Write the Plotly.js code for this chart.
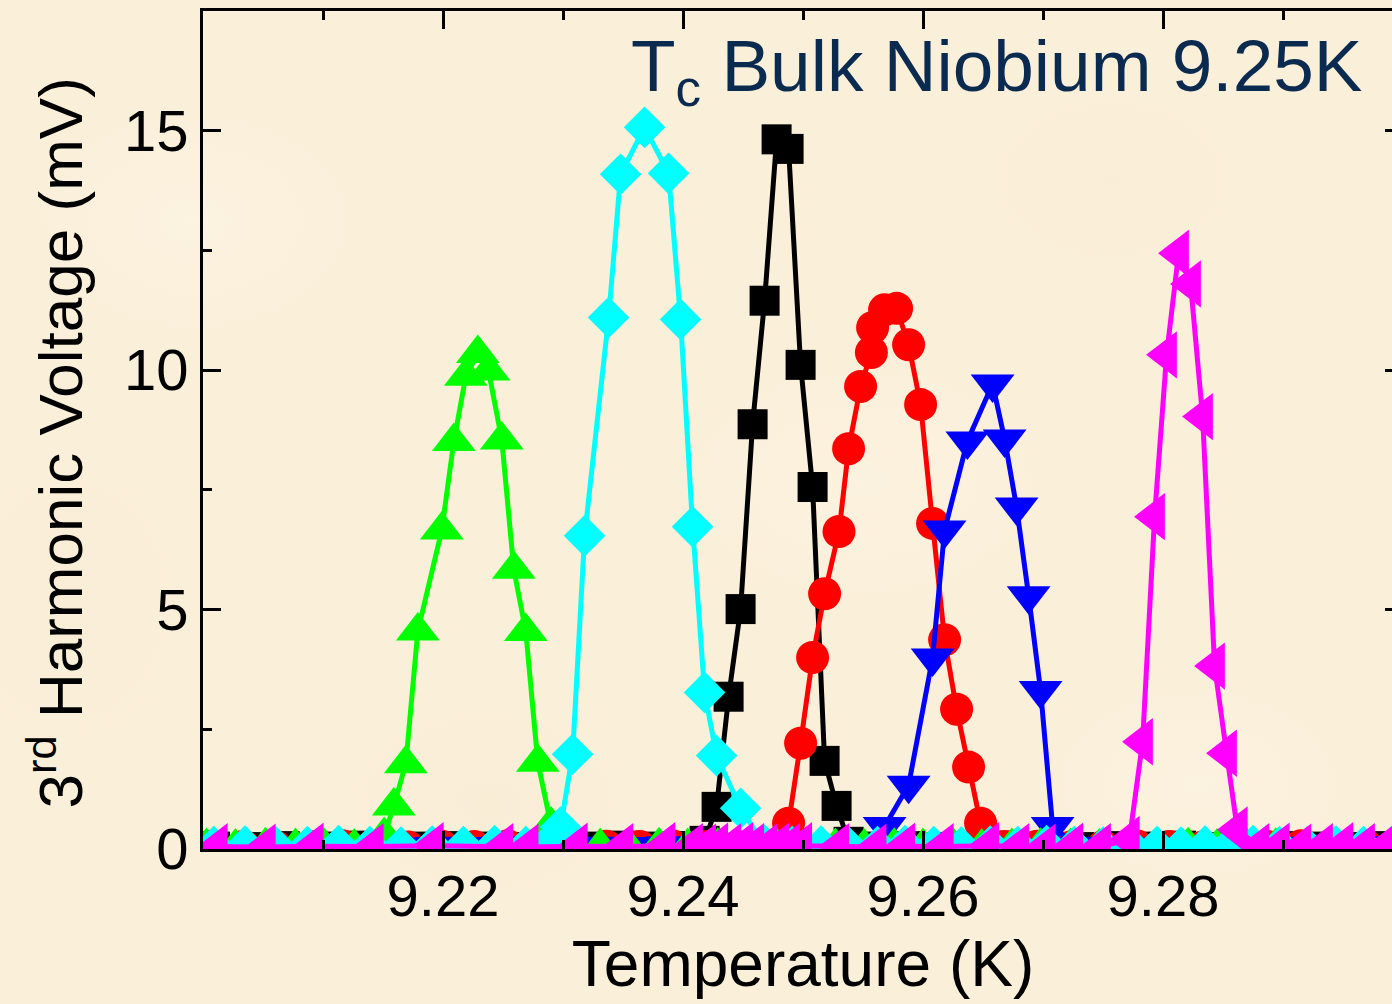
<!DOCTYPE html>
<html>
<head>
<meta charset="utf-8">
<script src="https://cdn.plot.ly/plotly-3.0.1.min.js"></script>
<style>
  html, body { margin: 0; padding: 0; width: 1392px; height: 1004px; overflow: hidden; }
  body {
    background-color: #FAEFD9;
    background-image:
      radial-gradient(ellipse 260px 180px at 14% 22%, rgba(253,246,231,0.5), rgba(253,246,231,0) 70%),
      radial-gradient(ellipse 300px 200px at 62% 48%, rgba(253,246,230,0.45), rgba(253,246,230,0) 70%),
      radial-gradient(ellipse 240px 160px at 86% 78%, rgba(253,246,231,0.45), rgba(253,246,231,0) 70%),
      radial-gradient(ellipse 220px 150px at 35% 80%, rgba(246,233,207,0.35), rgba(246,233,207,0) 70%),
      radial-gradient(ellipse 200px 140px at 80% 18%, rgba(246,233,207,0.3), rgba(246,233,207,0) 70%),
      radial-gradient(ellipse 180px 220px at 5% 60%, rgba(246,233,207,0.3), rgba(246,233,207,0) 70%);
  }
  #chart { width: 1420px; height: 1004px; }
</style>
</head>
<body>
<div id="chart"></div>
<script>
// Third-harmonic voltage vs temperature, six sweeps through the Nb transition
const tempBlack = [9.2010, 9.2040, 9.2068, 9.2096, 9.2125, 9.2153, 9.2181, 9.2210, 9.2238, 9.2266, 9.2295, 9.2323, 9.2351, 9.2380, 9.2405,
  9.2418, 9.2428, 9.2438, 9.2448, 9.2458, 9.2468, 9.2478, 9.2488, 9.2498, 9.2508, 9.2518, 9.2528, 9.2538,
  9.2560, 9.2588, 9.2616, 9.2645, 9.2673, 9.2701, 9.2730, 9.2758, 9.2786, 9.2815, 9.2843, 9.2871, 9.2900, 9.2928, 9.2956, 9.2985];
const voltBlack = [0.05, 0.04, 0.06, 0.05, 0.07, 0.04, 0.05, 0.06, 0.05, 0.04, 0.06, 0.05, 0.07, 0.05, 0.06,
  0.17, 0.88, 3.18, 5.01, 8.87, 11.45, 14.82, 14.62, 10.11, 7.56, 1.84, 0.90, 0.15,
  0.05, 0.06, 0.04, 0.05, 0.07, 0.05, 0.04, 0.06, 0.05, 0.07, 0.04, 0.05, 0.06, 0.05, 0.04, 0.06];

const tempRed = [9.2006, 9.2034, 9.2061, 9.2089, 9.2116, 9.2144, 9.2171, 9.2199, 9.2226, 9.2254, 9.2281, 9.2309, 9.2336, 9.2364, 9.2391, 9.2419, 9.2446, 9.2470,
  9.2488, 9.2498, 9.2508, 9.2518, 9.2530, 9.2538, 9.2548, 9.2557, 9.2558, 9.2568, 9.2578, 9.2588, 9.2598, 9.2608, 9.2618, 9.2628, 9.2638, 9.2648,
  9.2668, 9.2695, 9.2723, 9.2750, 9.2778, 9.2805, 9.2833, 9.2860, 9.2888, 9.2915, 9.2943, 9.2970, 9.2998];
const voltRed = [0.05, 0.06, 0.04, 0.05, 0.07, 0.05, 0.04, 0.06, 0.05, 0.07, 0.05, 0.04, 0.06, 0.05, 0.07, 0.05, 0.04, 0.06,
  0.54, 2.21, 4.00, 5.33, 6.63, 8.36, 9.66, 10.37, 10.89, 11.26, 11.29, 10.53, 9.28, 6.80, 4.37, 2.92, 1.71, 0.54,
  0.05, 0.06, 0.04, 0.05, 0.07, 0.05, 0.04, 0.06, 0.05, 0.07, 0.04, 0.05, 0.06];

const tempBlue = [9.2004, 9.2031, 9.2059, 9.2086, 9.2113, 9.2141, 9.2168, 9.2195, 9.2223, 9.2250, 9.2277, 9.2305, 9.2332, 9.2359, 9.2387, 9.2414, 9.2441, 9.2469, 9.2496, 9.2523, 9.2550,
  9.2568, 9.2588, 9.2608, 9.2618, 9.2637, 9.2658, 9.2668, 9.2678, 9.2688, 9.2698, 9.2708,
  9.2728, 9.2755, 9.2783, 9.2810, 9.2838, 9.2865, 9.2893, 9.2920, 9.2948, 9.2975, 9.3002];
const voltBlue = [0.05, 0.04, 0.06, 0.05, 0.07, 0.05, 0.04, 0.06, 0.05, 0.07, 0.05, 0.04, 0.06, 0.05, 0.07, 0.05, 0.04, 0.06, 0.05, 0.07, 0.05,
  0.47, 1.33, 3.99, 6.66, 8.52, 9.71, 8.56, 7.14, 5.29, 3.31, 0.47,
  0.05, 0.06, 0.04, 0.05, 0.07, 0.05, 0.04, 0.06, 0.05, 0.07, 0.05];

const tempGreen = [9.2003, 9.2027, 9.2052, 9.2077, 9.2101, 9.2126,
  9.2151, 9.2159, 9.2169, 9.2179, 9.2199, 9.2209, 9.2219, 9.2229, 9.2238, 9.2249, 9.2259, 9.2269, 9.2279, 9.2290,
  9.2306, 9.2331, 9.2355, 9.2380, 9.2404, 9.2429, 9.2453, 9.2478, 9.2502, 9.2527, 9.2551, 9.2576, 9.2600, 9.2625, 9.2649,
  9.2674, 9.2698, 9.2723, 9.2747, 9.2772, 9.2796, 9.2821, 9.2845, 9.2870, 9.2894, 9.2919, 9.2943, 9.2968, 9.2992];
const voltGreen = [0.05, 0.04, 0.07, 0.05, 0.06, 0.04,
  0.28, 0.90, 1.78, 4.55, 6.66, 8.51, 9.87, 10.35, 9.98, 8.54, 5.84, 4.54, 1.81, 0.50,
  0.06, 0.05, 0.04, 0.07, 0.05, 0.06, 0.04, 0.05, 0.07, 0.05, 0.04, 0.06, 0.05, 0.07, 0.04,
  0.05, 0.06, 0.05, 0.04, 0.06, 0.05, 0.07, 0.04, 0.05, 0.06, 0.05, 0.04, 0.06, 0.05];

const tempCyan = [9.2009, 9.2035, 9.2061, 9.2087, 9.2113, 9.2139, 9.2165, 9.2191, 9.2217, 9.2243, 9.2269, 9.2288,
  9.2298, 9.2308, 9.2318, 9.2338, 9.2348, 9.2368, 9.2388, 9.2398, 9.2408, 9.2418, 9.2428, 9.2448,
  9.2468, 9.2491, 9.2515, 9.2538, 9.2562, 9.2585, 9.2609, 9.2632, 9.2656, 9.2679, 9.2703, 9.2726,
  9.2750, 9.2773, 9.2795, 9.2815, 9.2835, 9.2855, 9.2875, 9.2897, 9.2920, 9.2944, 9.2967, 9.2990];
const voltCyan = [0.05, 0.06, 0.04, 0.05, 0.07, 0.05, 0.04, 0.06, 0.05, 0.07, 0.05, 0.12,
  0.46, 1.98, 6.54, 11.10, 14.09, 15.07, 14.11, 11.06, 6.73, 3.27, 1.95, 0.85,
  0.08, 0.05, 0.06, 0.04, 0.05, 0.07, 0.05, 0.04, 0.06, 0.05, 0.07, 0.05,
  0.04, 0.06, 0.05, 0.04, 0.06, 0.05, 0.07, 0.05, 0.04, 0.06, 0.05, 0.04];

const tempMagenta = [9.2012, 9.2052, 9.2092, 9.2142, 9.2192, 9.2250, 9.2271, 9.2312, 9.2350, 9.2385, 9.2408, 9.2419, 9.2429, 9.2440, 9.2450,
  9.2459, 9.2470, 9.2480, 9.2489, 9.2499, 9.2530, 9.2561, 9.2585, 9.2617, 9.2655, 9.2680, 9.2702, 9.2725, 9.2748,
  9.2772, 9.2783, 9.2793, 9.2803, 9.2813, 9.2823, 9.2833, 9.2843, 9.2853, 9.2862,
  9.2880, 9.2897, 9.2915, 9.2933, 9.2950, 9.2968, 9.2985, 9.3003];
const voltMagenta = [0.05, 0.04, 0.06, 0.05, 0.07, 0.05, 0.04, 0.06, 0.05, 0.07, 0.05, 0.04, 0.06, 0.05, 0.07,
  0.05, 0.04, 0.06, 0.05, 0.07, 0.05, 0.04, 0.06, 0.05, 0.07, 0.05, 0.04, 0.06, 0.05,
  0.20, 2.24, 6.94, 10.32, 12.44, 11.80, 9.03, 3.82, 2.00, 0.40,
  0.05, 0.06, 0.04, 0.05, 0.07, 0.05, 0.04, 0.06];

const xTickVals = [9.22, 9.24, 9.26, 9.28];
const xTickText = ['9.22', '9.24', '9.26', '9.28'];
const xMinorVals = [9.21, 9.23, 9.25, 9.27, 9.29];
const yTickVals = [0, 5, 10, 15];
const yTickText = ['0', '5', '10', '15'];
const yMinorVals = [2.5, 7.5, 12.5];

const plotTitle = 'T<sub>c</sub> Bulk Niobium 9.25K';
const xTitle = 'Temperature (K)';
const yTitle = '3<sup>rd</sup> Harmonic Voltage (mV)';

function sweep(x, y, color, symbol, size) {
  return {
    type: 'scatter', mode: 'lines+markers', x: x, y: y,
    line: { color: color, width: 5 },
    marker: { color: color, symbol: symbol, size: size, line: { width: 0 } },
    cliponaxis: true, hoverinfo: 'skip'
  };
}

const traces = [
  sweep(tempBlack, voltBlack, '#000000', 'square', 30),
  sweep(tempRed, voltRed, '#FF0000', 'circle', 33),
  sweep(tempBlue, voltBlue, '#0000FF', 'triangle-down', 38),
  sweep(tempGreen, voltGreen, '#00FF00', 'triangle-up', 38),
  sweep(tempCyan, voltCyan, '#00FFFF', 'diamond', 32),
  sweep(tempMagenta, voltMagenta, '#FF00FF', 'triangle-left', 41)
];

const axisCommon = {
  ticks: 'inside', ticklen: 18, tickwidth: 3, tickcolor: '#000',
  showline: true, linewidth: 3, linecolor: '#000', mirror: 'ticks',
  showgrid: false, zeroline: false, automargin: false,
  tickfont: { size: 58, color: '#000', family: 'Liberation Sans, Arial, sans-serif' }
};

const layout = {
  width: 1420, height: 1004,
  margin: { l: 203, r: 17, t: 11, b: 155 },
  paper_bgcolor: 'rgba(0,0,0,0)', plot_bgcolor: 'rgba(0,0,0,0)',
  showlegend: false,
  font: { family: 'Liberation Sans, Arial, sans-serif', color: '#000' },
  xaxis: Object.assign({}, axisCommon, {
    range: [9.2, 9.3], tickmode: 'array', tickvals: xTickVals, ticktext: xTickText,
    ticklabelstandoff: -6,
    minor: { tickmode: 'array', tickvals: xMinorVals, ticks: 'inside', ticklen: 9, tickwidth: 3, tickcolor: '#000' },
    title: { text: xTitle, font: { size: 64, color: '#000' }, standoff: 10 }
  }),
  yaxis: Object.assign({}, axisCommon, {
    range: [0, 17.5], tickmode: 'array', tickvals: yTickVals, ticktext: yTickText,
    minor: { tickmode: 'array', tickvals: yMinorVals, ticks: 'inside', ticklen: 9, tickwidth: 3, tickcolor: '#000' },
    title: { text: '' }
  }),
  annotations: [
    {
      text: plotTitle, xref: 'paper', yref: 'paper', x: 0.968, y: 0.986,
      xanchor: 'right', yanchor: 'top', showarrow: false,
      font: { size: 73, color: '#0B2A4F', family: 'Liberation Sans, Arial, sans-serif' }
    },
    {
      // vertical axis label, placed by hand so it sits a little below the plot centre
      text: yTitle, xref: 'paper', yref: 'paper', x: -0.1225, y: 0.484,
      xanchor: 'center', yanchor: 'middle', textangle: -90, showarrow: false,
      font: { size: 62, color: '#000', family: 'Liberation Sans, Arial, sans-serif' }
    }
  ]
};

Plotly.newPlot('chart', traces, layout, { displayModeBar: false, staticPlot: true });
</script>
</body>
</html>
